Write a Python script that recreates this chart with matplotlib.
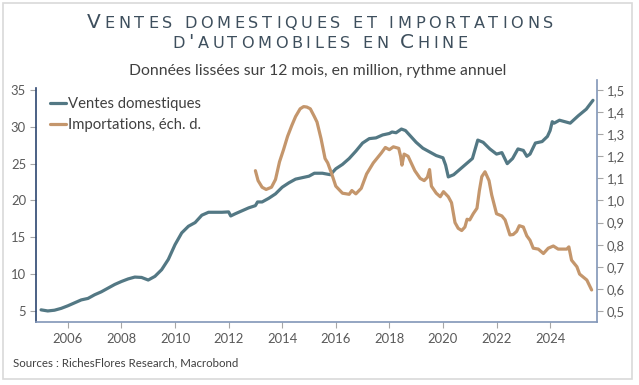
import matplotlib
matplotlib.use("Agg")
import matplotlib.pyplot as plt
from matplotlib.patches import Rectangle

# --- data (decimal years) ---
sales_x = [2005.0, 2005.25, 2005.5, 2005.75, 2006.0, 2006.25, 2006.5, 2006.75, 2007.0, 2007.25,
           2007.5, 2007.75, 2008.0, 2008.25, 2008.5, 2008.75, 2009.0, 2009.25, 2009.5, 2009.75,
           2010.0, 2010.25, 2010.5, 2010.75, 2011.0, 2011.25, 2011.5, 2011.75, 2012.0, 2012.08,
           2012.25, 2012.5, 2012.75, 2013.0, 2013.08, 2013.25, 2013.5, 2013.75, 2014.0, 2014.25,
           2014.5, 2014.75, 2015.0, 2015.2, 2015.5, 2015.8, 2016.0, 2016.25, 2016.5, 2016.75,
           2017.0, 2017.25, 2017.5, 2017.75, 2018.0, 2018.1, 2018.25, 2018.45, 2018.6, 2018.8,
           2019.0, 2019.25, 2019.5, 2019.75, 2020.0, 2020.1, 2020.2, 2020.4, 2020.75, 2021.1,
           2021.3, 2021.5, 2021.75, 2022.0, 2022.2, 2022.4, 2022.6, 2022.8, 2023.0, 2023.13,
           2023.25, 2023.45, 2023.7, 2023.9, 2024.0, 2024.08, 2024.15, 2024.35, 2024.55, 2024.75,
           2025.05, 2025.35, 2025.6]
sales_y = [5.15, 5.0, 5.1, 5.35, 5.7, 6.1, 6.5, 6.7, 7.2, 7.6,
           8.1, 8.6, 9.0, 9.35, 9.6, 9.55, 9.2, 9.7, 10.6, 12.0,
           14.0, 15.6, 16.5, 17.0, 18.0, 18.4, 18.4, 18.4, 18.45, 17.9,
           18.2, 18.6, 19.0, 19.3, 19.8, 19.8, 20.3, 20.9, 21.8, 22.4,
           22.9, 23.1, 23.3, 23.7, 23.7, 23.5, 24.3, 24.9, 25.7, 26.7,
           27.8, 28.4, 28.5, 28.9, 29.1, 29.3, 29.2, 29.7, 29.5, 28.7,
           27.9, 27.1, 26.6, 26.1, 25.8, 24.8, 23.2, 23.5, 24.6, 25.7,
           28.2, 27.9, 27.0, 26.3, 26.5, 25.0, 25.7, 27.0, 26.8, 26.0,
           26.3, 27.8, 28.0, 28.7, 29.5, 30.7, 30.5, 30.9, 30.7, 30.5,
           31.5, 32.4, 33.6]

imports_x = [2013.0, 2013.1, 2013.25, 2013.4, 2013.5, 2013.6, 2013.75, 2013.9, 2014.05, 2014.2,
             2014.36, 2014.5, 2014.67, 2014.8, 2014.92, 2015.05, 2015.2, 2015.3, 2015.45, 2015.6,
             2015.7, 2015.85, 2016.0, 2016.25, 2016.5, 2016.6, 2016.75, 2016.95, 2017.15, 2017.4,
             2017.7, 2017.85, 2018.0, 2018.15, 2018.35, 2018.42, 2018.47, 2018.55, 2018.7, 2018.95,
             2019.15, 2019.3, 2019.42, 2019.5, 2019.57, 2019.75, 2019.9, 2020.02, 2020.2, 2020.32,
             2020.45, 2020.57, 2020.7, 2020.82, 2020.9, 2021.0, 2021.13, 2021.27, 2021.36, 2021.45,
             2021.57, 2021.72, 2021.82, 2022.0, 2022.2, 2022.32, 2022.5, 2022.62, 2022.75, 2022.85,
             2023.0, 2023.13, 2023.25, 2023.37, 2023.56, 2023.75, 2023.93, 2024.12, 2024.3, 2024.62,
             2024.7, 2024.8, 2025.0, 2025.1, 2025.37, 2025.55]
imports_y = [1.135, 1.09, 1.06, 1.05, 1.055, 1.06, 1.095, 1.175, 1.23, 1.29,
             1.34, 1.38, 1.415, 1.425, 1.423, 1.415, 1.38, 1.355, 1.28, 1.19,
             1.17, 1.12, 1.065, 1.033, 1.028, 1.045, 1.03, 1.055, 1.12, 1.17,
             1.215, 1.24, 1.23, 1.243, 1.236, 1.2, 1.16, 1.21, 1.2, 1.135,
             1.1, 1.09, 1.105, 1.14, 1.065, 1.033, 1.017, 1.04, 1.017, 0.99,
             0.9, 0.874, 0.864, 0.88, 0.915, 0.912, 0.94, 0.965, 1.045, 1.108,
             1.13, 1.09, 1.025, 0.94, 0.93, 0.912, 0.844, 0.846, 0.86, 0.886,
             0.88, 0.84, 0.82, 0.784, 0.78, 0.76, 0.784, 0.794, 0.78, 0.78,
             0.79, 0.73, 0.70, 0.667, 0.64, 0.595]

left_ticks = [5, 10, 15, 20, 25, 30, 35]
right_ticks = [0.5, 0.6, 0.7, 0.8, 0.9, 1.0, 1.1, 1.2, 1.3, 1.4, 1.5]
year_ticks = [2006, 2008, 2010, 2012, 2014, 2016, 2018, 2020, 2022, 2024]

BLUE = "#537884"
ORANGE = "#c4966c"
TXT = "#404040"
TITLE_C = "#3e4f5d"

plt.rcParams["font.family"] = ["Lato", "DejaVu Sans"]

fig = plt.figure(figsize=(6.39, 3.85), dpi=100)
W, H = 639, 385

# outer frame
fig.patches.append(Rectangle((3 / W, 1 - 379 / H), 629 / W, 376 / H, transform=fig.transFigure,
                             fill=False, edgecolor="#d9d9d9", linewidth=1.2))

ax = fig.add_axes([35.7 / W, 1 - 322 / H, (597 - 35.7) / W, (322 - 80) / H])
ax2 = ax.twinx()

ax.plot(sales_x, sales_y, color=BLUE, linewidth=2.3, solid_capstyle="round",
        label="Ventes domestiques")
ax2.plot(imports_x, imports_y, color=ORANGE, linewidth=2.3, solid_capstyle="round",
         label="Importations, éch. d.")

ax.set_xlim(2004.8, 2025.75)
ax.set_ylim(3.5, 36.36)
ax2.set_ylim(0.45, 1.5454)

ax.set_xticks(year_ticks)
ax.set_yticks(left_ticks)
ax2.set_yticks(right_ticks)
ax2.set_yticklabels([f"{v:.1f}".replace(".", ",") for v in right_ticks])

for a in (ax, ax2):
    a.patch.set_visible(False)
    a.spines["top"].set_visible(False)
ax.spines["right"].set_visible(False)
ax2.spines["left"].set_visible(False)
ax2.spines["bottom"].set_visible(False)
ax.spines["left"].set_color("#2c4570")
ax.spines["left"].set_bounds(3.5, 35.3)
ax.spines["bottom"].set_color("#8196b8")
ax2.spines["right"].set_color("#8196b8")
for s in (ax.spines["left"], ax.spines["bottom"], ax2.spines["right"]):
    s.set_linewidth(1.2)

ax.tick_params(axis="y", length=4, color="#a6a6a6", labelsize=9.4, labelcolor="#595959", pad=3)
ax.tick_params(axis="x", length=4, color="#a6a6a6", labelsize=9.4, labelcolor="#595959", pad=4)
ax2.tick_params(axis="y", length=4, color="#a6a6a6", labelsize=9.4, labelcolor="#595959", pad=3)

h1, l1 = ax.get_legend_handles_labels()
h2, l2 = ax2.get_legend_handles_labels()
leg = ax2.legend(h1 + h2, l1 + l2, loc="upper left", bbox_to_anchor=(44 / W, 1 - 91 / H),
                 bbox_transform=fig.transFigure, frameon=False, fontsize=10.7,
                 handlelength=1.05, handletextpad=0.15, labelspacing=0.5, borderaxespad=0)
for t in leg.get_texts():
    t.set_color(TXT)


# small-caps title: one text per letter, spread to the reference width
def small_caps_line(text, y_px, big, small, target_w, cx=320):
    renderer = fig.canvas.get_renderer()
    kw = dict(family="DejaVu Sans")
    probe1 = fig.text(0, 0, "A A", fontsize=small, **kw)
    probe2 = fig.text(0, 0, "AA", fontsize=small, **kw)
    space_w = probe1.get_window_extent(renderer).width - probe2.get_window_extent(renderer).width
    probe1.remove()
    probe2.remove()
    items = []
    for ch in text:
        if ch == " ":
            items.append((None, space_w))
            continue
        size = small if ch.islower() else big
        t = fig.text(0, 1 - y_px / H, ch.upper(), fontsize=size, color=TITLE_C,
                     ha="left", va="baseline", **kw)
        items.append((t, t.get_window_extent(renderer).width))
    natural = sum(w for _, w in items)
    track = (target_w - natural) / (len(items) - 1)
    x = cx - target_w / 2
    for t, w in items:
        if t is not None:
            t.set_x(x / W)
        x += w + track


small_caps_line("Ventes domestiques et importations", 27.7, 14.5, 11.6, 466)
small_caps_line("d'automobiles en Chine", 48.3, 14.5, 11.6, 295)

fig.text(318 / W, 1 - 71.5 / H, "Données lissées sur 12 mois, en million, rythme annuel",
         fontsize=11.3, color=TXT, ha="center", va="center")
fig.text(12.7 / W, 1 - 363 / H, "Sources : RichesFlores Research, Macrobond",
         fontsize=8.3, color=TXT, ha="left", va="center")

fig.savefig("out.png", dpi=100)
